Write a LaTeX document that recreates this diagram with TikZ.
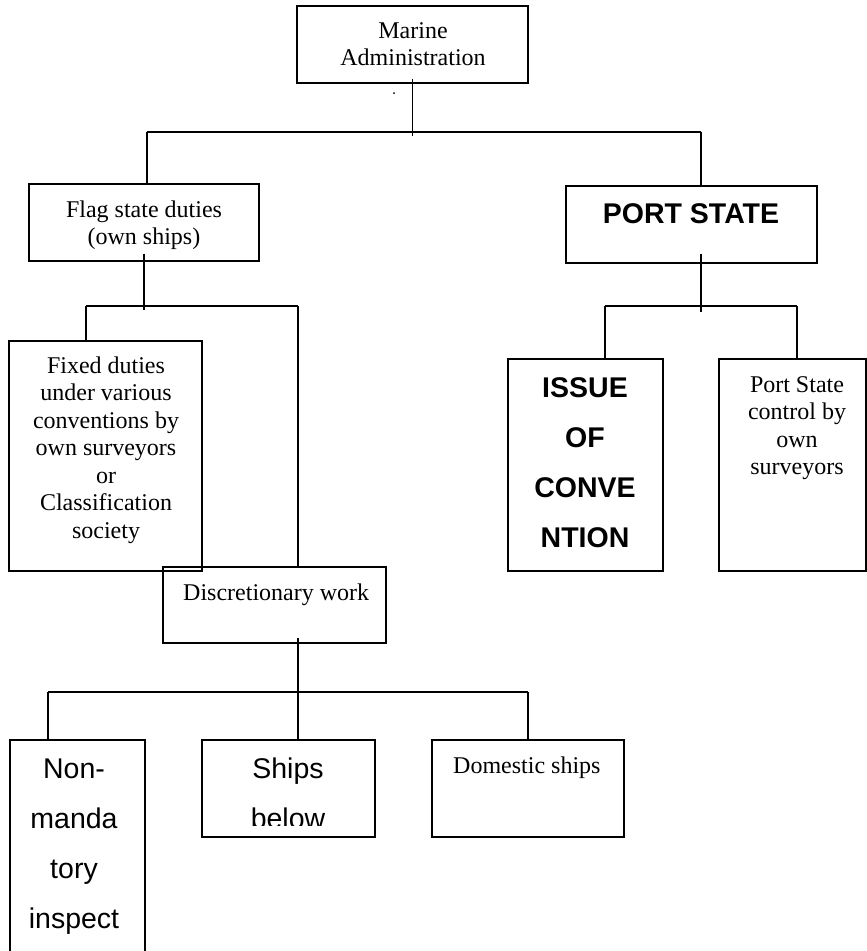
\documentclass[tikz,border=0pt]{standalone}
\usepackage{fontspec}
\setmainfont{Liberation Serif}
\newfontfamily\arialfont{Liberation Sans}

\tikzset{
  box/.style={draw, rectangle, line width=1.4pt, inner sep=0pt},
  link/.style={line width=1.4pt},
  serif/.style={font=\fontsize{24}{27.5}\selectfont, inner sep=0pt, anchor=base},
  sans/.style={font=\arialfont\fontsize{28.5}{50.3}\selectfont, inner sep=0pt, anchor=base},
  sansbold/.style={font=\arialfont\bfseries\fontsize{28.5}{50.3}\selectfont, inner sep=0pt, anchor=base},
}
% centred stack of lines; the node's base is the first line's baseline
\newcommand{\lines}[1]{\begin{tabular}[t]{@{}c@{}}#1\end{tabular}}

\begin{document}
\begin{tikzpicture}[x=1pt, y=-1pt]
\useasboundingbox (0,0) rectangle (867,951);
\clip (0,0) rectangle (867,951);

% boxes
\node[box, minimum width=231pt, minimum height=77pt]  (marine) at (412.5,44.5) {};
\node[box, minimum width=230pt, minimum height=77pt]  (flag)   at (144,222.5) {};
\node[box, minimum width=251pt, minimum height=77pt]  (port)   at (691.5,224.5) {};
\node[box, minimum width=193pt, minimum height=230pt] (fixed)  at (105.5,456) {};
\node[box, minimum width=223pt, minimum height=76pt]  (disc)   at (274.5,605) {};
\node[box, minimum width=155pt, minimum height=212pt] (issue)  at (585.5,465) {};
\node[box, minimum width=147pt, minimum height=212pt] (psc)    at (792.5,465) {};
\node[box, minimum width=135pt, minimum height=225pt] (nonm)   at (77.5,852.5) {};
\node[box, minimum width=173pt, minimum height=97pt]  (ships)  at (288.5,788.5) {};
\node[box, minimum width=192pt, minimum height=97pt]  (dom)    at (528,788.5) {};

% texts
\node[serif] (marinetxt) at (413,38) {\lines{Marine\\Administration}};
\fill (394,93) circle (1pt);
\node[serif] (flagtxt) at (144,217) {\lines{Flag state duties\\(own ships)}};
\node[sansbold] (porttxt) at (691,223) {PORT STATE};
\node[serif] (fixedtxt) at (106,373) {\lines{Fixed duties\\under various\\conventions by\\own surveyors\\or\\Classification\\society}};
\node[serif, anchor=base west] (disctxt) at (183,600) {Discretionary work};
\node[sansbold] (issuetxt) at (585,397) {\lines{ISSUE\\OF\\CONVE\\NTION}};
\node[serif] (psctxt) at (797,392) {\lines{Port State\\control by\\own\\surveyors}};
\node[sans] (nonmtxt) at (74,778) {\lines{Non-\\manda\\tory\\inspect}};
\begin{scope}
  \clip (202,740) rectangle (375,825);
  \node[sans] (shipstxt) at (288,778) {\lines{Ships\\below}};
\end{scope}
\node[serif, anchor=base west] (domtxt) at (453,773) {Domestic ships};

% junction points of the buses
\coordinate (t1) at (147,132);
\coordinate (t2) at (701,132);
\coordinate (f1) at (86,306);
\coordinate (f2) at (298,306);
\coordinate (p1) at (605,306);
\coordinate (p2) at (797,306);
\coordinate (b1) at (48,692);
\coordinate (b2) at (528,692);

% Marine Administration to its two branches
\draw[link] ([yshift=5pt]marine.south) -- ([yshift=-4pt]marine.south |- t1);
\draw[link] (t1) -- (t2);
\draw[link] (t1) -- (t1 |- flag.north);
\draw[link] (t2) -- (t2 |- port.north);

% flag state branch
\draw[link] ([yshift=8pt]flag.south) -- ([yshift=-4pt]flag.south |- f1);
\draw[link] (f1) -- (f2);
\draw[link] (f1) -- (f1 |- fixed.north);
\draw[link] (f2) -- (f2 |- disc.north);

% port state branch
\draw[link] ([yshift=10pt]t2 |- port.south) -- ([yshift=-6pt]t2 |- p1);
\draw[link] (p1) -- (p2);
\draw[link] (p1) -- (p1 |- issue.north);
\draw[link] (p2) -- (p2 |- psc.north);

% discretionary work branch
\draw[link] ([yshift=6pt]f2 |- disc.south) -- (f2 |- ships.north);
\draw[link] (b1) -- (b2);
\draw[link] (b1) -- (b1 |- nonm.north);
\draw[link] (b2) -- (b2 |- dom.north);
\end{tikzpicture}
\end{document}
